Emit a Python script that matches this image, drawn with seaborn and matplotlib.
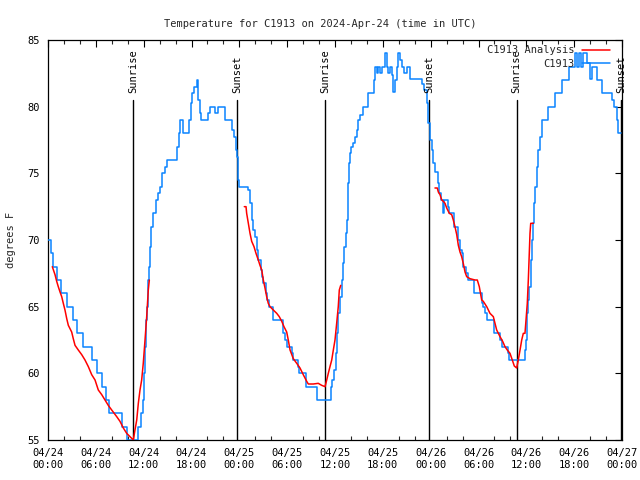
import numpy as np
import pandas as pd
import matplotlib
matplotlib.use("Agg")
import matplotlib.pyplot as plt
import matplotlib.dates as mdates
from matplotlib.lines import Line2D
import seaborn as sns

# ---------------- data (hours after 2024-04-24 00:00 UTC) ----------------
obs_hours = [0, 0.35, 0.67, 1.17, 1.59, 2.34, 3.18, 3.68, 4.43, 5.48, 6.19, 6.73, 7.23, 7.69,
             9.24, 9.87, 11.29, 11.7, 11.9, 12.1, 12.2, 12.3, 12.4, 12.6, 12.7, 12.8, 12.95,
             13.2, 13.5, 13.8, 14.0, 14.25, 14.7, 14.9, 16.2, 16.4, 16.6, 16.95, 17.69, 17.94,
             18.1, 18.35, 18.65, 18.86, 19.1, 19.25, 20.05, 20.3, 20.95, 21.29, 22.2, 23.12,
             23.37, 23.58, 23.71, 23.8, 23.87, 23.96,
             25.13, 25.34, 25.55, 25.75, 25.97, 26.18, 26.38, 26.68, 26.88, 27.0, 27.35, 27.5,
             27.72, 28.26, 29.52, 29.73, 30.02, 30.57, 30.7, 31.4, 31.52, 32.33, 33.78, 35.5,
             35.66, 35.91, 36.09, 36.21, 36.41, 36.63, 36.84, 37.04, 37.17, 37.34, 37.47, 37.6,
             37.67, 37.76, 37.88, 38.01, 38.3, 38.51, 38.72, 38.92, 39.14, 39.55, 40.18, 40.93,
             41.02, 41.23, 41.43, 41.65, 41.86, 42.27, 42.48, 42.68, 42.9, 43.11, 43.31, 43.53,
             43.74, 43.94, 44.15, 44.44, 44.69, 44.99, 45.41, 46.95, 47.2, 47.5, 47.7, 47.92,
             48.13, 48.33, 48.54, 48.96, 49.08, 49.26, 49.59, 49.68, 50.21, 50.34, 50.97,
             51.47, 51.68, 51.89, 52.02, 52.43, 52.72, 53.47, 54.4, 54.6, 54.82, 55.1, 55.95,
             56.7, 56.91, 57.74, 57.86, 59.83, 59.96, 60.05, 60.12, 60.25, 60.37, 60.55, 60.67,
             60.8, 60.96, 61.09, 61.3, 61.5, 61.71, 62.0, 62.76, 63.6, 64.44, 65.35, 66.1,
             66.35, 66.6, 66.86, 67.1, 67.57, 67.99, 68.24, 68.83, 69.53, 70.71, 71.03, 71.33,
             71.53, 71.88]
obs_temp = [70, 69, 68, 67, 66, 65, 64, 63, 62, 61, 60, 59, 58, 57,
            56, 55, 56, 57, 58, 60, 62, 64, 65, 67, 68, 69.5, 71,
            72, 73, 73.5, 74, 75, 75.5, 76, 77, 78, 79, 78, 79, 80.25,
            81, 81.5, 82, 80.5, 79.5, 79, 79.5, 80, 79.5, 80, 79, 78.25,
            77.75, 76.75, 76.25, 75.5, 74.5, 74,
            73.75, 72.75, 71.5, 70.75, 70.25, 69.25, 68.5, 67.75, 67.25, 66.75, 66, 65.5,
            65, 64, 63, 62.5, 62, 61.5, 61, 60.5, 60, 59, 58, 59,
            59.5, 60.25, 61.5, 63, 64.5, 65.75, 67, 68.25, 69.5, 70.5, 71.5, 72.75,
            74.25, 75.75, 76.5, 77, 77.25, 77.75, 78.25, 79, 79.4, 80, 81, 82,
            83, 82.5, 83, 82.5, 83, 84, 83, 82.5, 83, 82.4, 81.1, 82,
            83, 84, 83.5, 83, 82.5, 83, 82.1, 81.7, 81.25, 80.25, 78.75, 77.5,
            76.75, 75.75, 75.1, 74.25, 73.5, 73, 72, 73, 72.5, 72, 71,
            70, 69.25, 69, 68, 67.5, 67, 66, 65.25, 65, 64.5, 64, 63,
            62.5, 62, 61.5, 61, 61.75, 62.5, 63.75, 64.5, 65.5, 66.5, 68.5, 70,
            71.25, 72.75, 74, 75.5, 76.75, 77.75, 79, 80, 81, 82, 83, 84,
            83, 84, 83, 84, 83.25, 82.1, 83, 82, 81, 80.5, 80, 79,
            78, 78]

ana1_hours = [0.54, 0.88, 1.09, 1.29, 1.51, 1.72, 1.92, 2.13, 2.35, 2.55, 2.97, 3.17, 3.39,
              3.8, 4.23, 4.64, 5.06, 5.48, 5.9, 6.31, 6.74, 7.15, 7.56, 7.99, 8.62, 9.03,
              9.45, 9.87, 10.29, 10.7, 10.91, 11.13, 11.33, 11.54, 11.75, 11.95, 12.17,
              12.38, 12.58, 12.71]
ana1_temp = [68, 67.4, 66.9, 66.5, 66.1, 65.75, 65.25, 64.75, 64.1, 63.6, 63.1, 62.6, 62.1,
             61.75, 61.4, 61, 60.5, 59.9, 59.5, 58.75, 58.4, 58, 57.6, 57.25, 56.75, 56.4,
             55.9, 55.5, 55.25, 55, 55.75, 56.5, 57.75, 58.75, 59.5, 60.75, 62.5,
             64.25, 66.25, 67]
ana2_hours = [24.62, 24.84, 24.92, 25.13, 25.34, 25.55, 25.84, 26.09, 26.38, 26.59, 26.81, 27.01,
              27.22, 27.43, 27.63, 27.85, 28.26, 28.69, 29.01, 29.32, 29.6, 29.94, 30.14, 30.36,
              30.77, 31.2, 31.61, 32.02, 32.45, 32.65, 33.28, 33.9, 34.33, 34.75, 34.96, 35.16,
              35.37, 35.59, 35.79, 36.0, 36.21, 36.41, 36.54, 36.72]
ana2_temp = [72.5, 72.5, 72, 71.25, 70.5, 69.9, 69.5, 69, 68.5, 68.1, 67.75, 67,
             66.4, 65.75, 65.25, 65, 64.75, 64.5, 64.25, 63.9, 63.5, 63.1, 62.5, 61.75,
             61.1, 60.75, 60.4, 59.9, 59.4, 59.2, 59.2, 59.25, 59.1, 59, 59.5, 60,
             60.5, 61, 61.75, 62.5, 63.75, 65, 66.25, 66.6]
ana3_hours = [48.54, 48.83, 48.96, 49.17, 49.39, 49.59, 49.8, 50.01, 50.34, 50.64, 50.84, 51.05,
              51.27, 51.47, 51.68, 51.89, 52.09, 52.31, 52.52, 52.93, 53.56, 53.85, 54.1, 54.4,
              54.6, 55.03, 55.44, 55.86, 56.07, 56.28, 56.7, 57.03, 57.32, 57.61, 57.95, 58.24,
              58.49, 58.79, 58.99, 59.21, 59.42, 59.62, 59.83, 59.96, 60.12, 60.25, 60.37, 60.46,
              60.55, 60.88]
ana3_temp = [73.9, 73.9, 73.6, 73.4, 73, 72.9, 72.75, 72.4, 72, 71.9, 71.5, 71,
             70.4, 69.6, 69.1, 68.75, 68.25, 67.6, 67.25, 67.1, 67, 67, 66.5, 65.5,
             65.4, 65, 64.5, 64.25, 63.75, 63.25, 62.75, 62.4, 62, 61.75, 61.5, 61,
             60.55, 60.4, 61, 61.75, 62.5, 63, 63, 64, 65.25, 67, 69, 70.5,
             71.25, 71.25]

sun_hours = [10.68, 23.7, 34.8, 47.8, 58.78, 71.9]
sun_labels = ["Sunrise", "Sunset", "Sunrise", "Sunset", "Sunrise", "Sunset"]

title = "Temperature for C1913 on 2024-Apr-24 (time in UTC)"
ylabel = "degrees F"
obs_name = "C1913"
ana_name = "C1913 Analysis"

# ---------------- plotting ----------------
t0 = pd.Timestamp("2024-04-24 00:00")
def to_time(h):
    return t0 + pd.to_timedelta(np.asarray(h, dtype=float), unit="h")

sns.set_theme(style="white")
FONT = "DejaVu Sans Mono"
plt.rcParams["font.family"] = [FONT, "DejaVu Sans"]
plt.rcParams["font.size"] = 7.5

BLUE = "#0a84ff"
RED = "#ff0000"

fig = plt.figure(figsize=(6.4, 4.8), dpi=100)
ax = fig.add_axes([48/640, 40/480, (622-48)/640, (440-40)/480])

obs_df = pd.DataFrame({"time": to_time(obs_hours), "temp": obs_temp})
sns.lineplot(data=obs_df, x="time", y="temp", ax=ax, color=BLUE, lw=1.1,
             drawstyle="steps-post", estimator=None, sort=False, zorder=3)

for hh, tt in [(ana1_hours, ana1_temp), (ana2_hours, ana2_temp), (ana3_hours, ana3_temp)]:
    d = pd.DataFrame({"time": to_time(hh), "temp": tt})
    sns.lineplot(data=d, x="time", y="temp", ax=ax, color=RED, lw=1.1,
                 estimator=None, sort=False, zorder=4)

# sunrise / sunset lines
for h, lab in zip(sun_hours, sun_labels):
    t = to_time([h])[0]
    ax.plot([t, t], [55, 80.5], color="black", lw=1.0, zorder=2)
    ax.text(t, 81.0, lab, rotation=90, ha="center", va="bottom", fontsize=7.5,
            family=[FONT], color="black")

ax.set_xlim(t0, t0 + pd.Timedelta(hours=72))
ax.set_ylim(55, 85)
ax.set_yticks([55, 60, 65, 70, 75, 80, 85])
ax.xaxis.set_major_locator(mdates.HourLocator(byhour=[0, 6, 12, 18]))
ax.xaxis.set_major_formatter(mdates.DateFormatter("%m/%d\n%H:%M"))
ax.xaxis.set_minor_locator(mdates.HourLocator(interval=2))
ax.tick_params(axis="both", which="major", direction="in", length=5, width=0.8,
               top=True, right=True, labelsize=7.5, colors="black", pad=6)
ax.tick_params(axis="x", which="minor", direction="in", length=3, width=0.8,
               top=True, bottom=True)
for lbl in ax.get_xticklabels() + ax.get_yticklabels():
    lbl.set_family([FONT])

for s in ax.spines.values():
    s.set_visible(True)
    s.set_color("black")
    s.set_linewidth(0.9)

ax.set_xlabel("")
ax.set_ylabel(ylabel, fontsize=7.5, family=[FONT], labelpad=8)
fig.text(0.5, 1 - 24/480, title, ha="center", va="center", fontsize=7.5, family=[FONT])

handles = [Line2D([], [], color=RED, lw=1.1), Line2D([], [], color=BLUE, lw=1.1)]
leg = ax.legend(handles, [ana_name, obs_name], loc="upper right", frameon=False,
                markerfirst=False, handlelength=2.7, handletextpad=0.7,
                labelspacing=0.35, borderaxespad=0.3, prop={"family": FONT, "size": 7.5},
                bbox_to_anchor=(0.992, 1.005))

fig.savefig("out.png", dpi=100)
